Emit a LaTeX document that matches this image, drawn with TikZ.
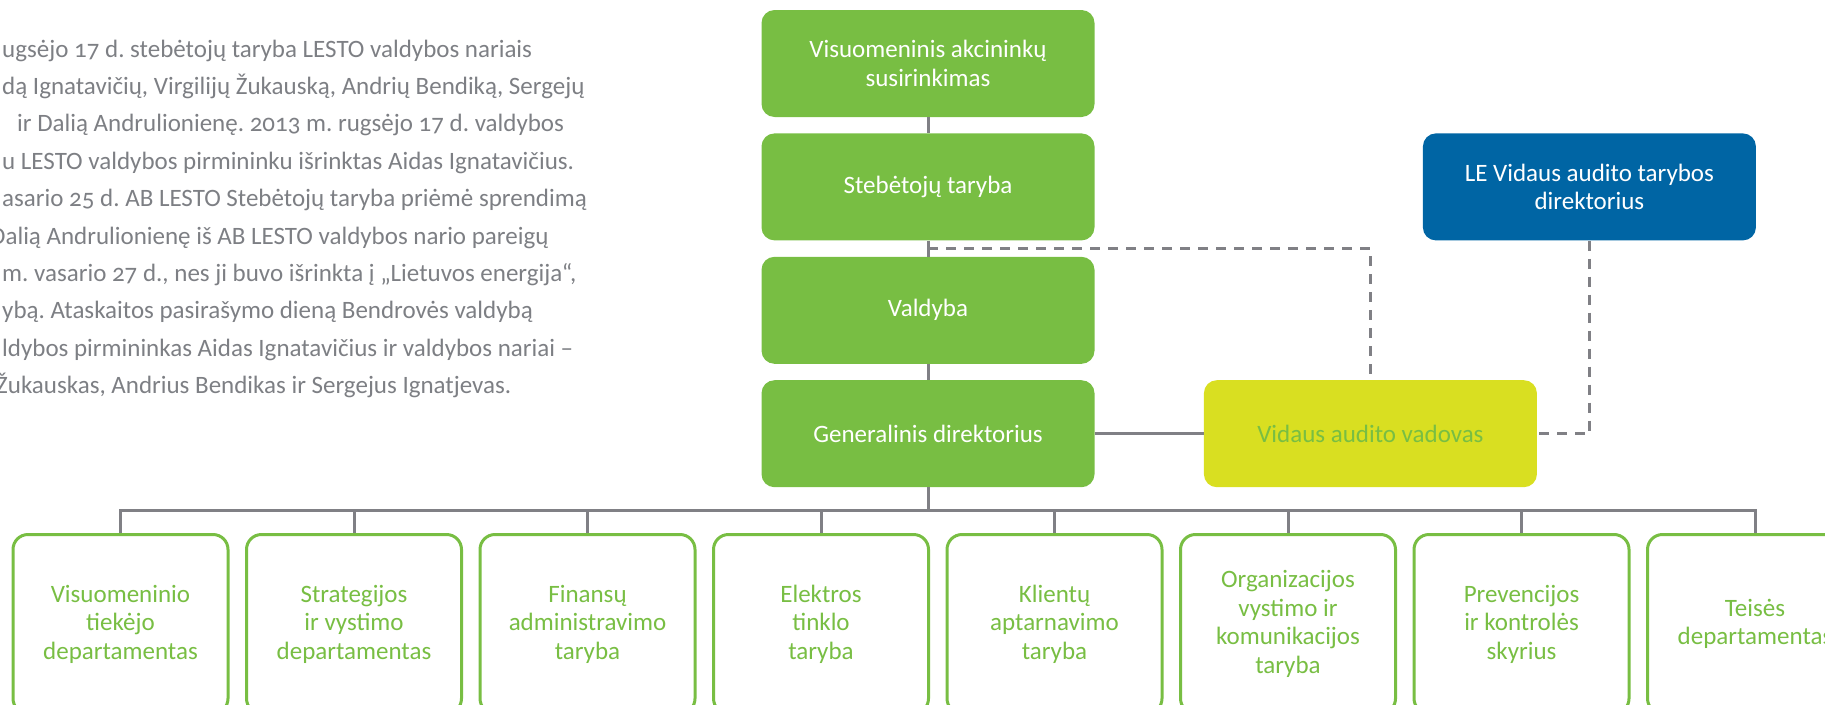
\documentclass[tikz,border=0pt]{standalone}
\usepackage{fontspec}
\setmainfont{Carlito}[Numbers=OldStyle]
\usetikzlibrary{positioning,calc}
\definecolor{leafgreen}{RGB}{120,190,67}
\definecolor{limeyellow}{RGB}{217,223,33}
\definecolor{deepblue}{RGB}{0,101,164}
\definecolor{linegray}{RGB}{128,128,133}
\definecolor{textgray}{RGB}{125,127,132}
\tikzstyle{board} = [rectangle, rounded corners=13pt, minimum width=333pt, minimum height=107pt, fill=leafgreen, text=white, align=center]
\tikzstyle{audit} = [board, fill=limeyellow, text=leafgreen]
\tikzstyle{group} = [board, fill=deepblue]
\tikzstyle{dept} = [rectangle, rounded corners=15pt, minimum width=215pt, minimum height=179pt, line width=3pt, draw=leafgreen, fill=white, text=leafgreen, align=center, anchor=north]
\tikzstyle{link} = [line width=3pt, draw=linegray]
\tikzstyle{dashlink} = [link, dash pattern=on 10pt off 8pt]
\tikzstyle{note} = [anchor=base west, inner sep=0pt, text=textgray]

\begin{document}
\frenchspacing
\begin{tikzpicture}[x=1pt, y=-1pt, font=\fontsize{25}{28.5}\selectfont] % pixel units, y down
\useasboundingbox (0,0) rectangle (1825,704);

% Text beside the chart
\node (note1)  [note] at (2,57)     {ugsėjo 17 d. stebėtojų taryba LESTO valdybos nariais};
\node (note2)  [note] at (2,94.4)   {dą Ignatavičių, Virgilijų Žukauską, Andrių Bendiką, Sergejų};
\node (note3)  [note] at (17,131.8) {ir Dalią Andrulionienę. 2013 m. rugsėjo 17 d. valdybos};
\node (note4)  [note] at (2,169.2)  {u LESTO valdybos pirmininku išrinktas Aidas Ignatavičius.};
\node (note5)  [note] at (2,206.6)  {asario 25 d. AB LESTO Stebėtojų taryba priėmė sprendimą};
\node (note6)  [note] at (-10,244)  {Dalią Andrulionienę iš AB LESTO valdybos nario pareigų};
\node (note7)  [note] at (2,281.4)  {m. vasario 27 d., nes ji buvo išrinkta į „Lietuvos energija“,};
\node (note8)  [note] at (2,318.8)  {ybą. Ataskaitos pasirašymo dieną Bendrovės valdybą};
\node (note9)  [note] at (2,356.2)  {ldybos pirmininkas Aidas Ignatavičius ir valdybos nariai –};
\node (note10) [note] at (-4,393.6) {Žukauskas, Andrius Bendikas ir Sergejus Ignatjevas.};

% Place the governing bodies
\node (meeting)     [board]                             at (928,63.5) {Visuomeninis akcininkų\\susirinkimas};
\node (supervisory) [board, below=16pt of meeting]                    {Stebėtojų taryba};
\node (management)  [board, below=16pt of supervisory]                {Valdyba};
\node (ceo)         [board, below=16pt of management]                 {Generalinis direktorius};
\node (audithead)   [audit, right=109pt of ceo]                       {Vidaus audito vadovas};
\node (auditboard)  [group, right=328pt of supervisory]               {LE Vidaus audito tarybos\\direktorius};
\coordinate (tap) at ($(supervisory.south)!0.5!(management.north)$);
\coordinate [below=23pt of ceo] (bus);

% Place the departments
\node (dep1) [dept] at (120.5,533)      {Visuomeninio\\tiekėjo\\departamentas};
\node (dep2) [dept, right=15.5pt of dep1] {Strategijos\\ir vystimo\\departamentas};
\node (dep3) [dept, right=15.5pt of dep2] {Finansų\\administravimo\\taryba};
\node (dep4) [dept, right=15.5pt of dep3] {Elektros\\tinklo\\taryba};
\node (dep5) [dept, right=15.5pt of dep4] {Klientų\\aptarnavimo\\taryba};
\node (dep6) [dept, right=15.5pt of dep5] {Organizacijos\\vystimo ir\\komunikacijos\\taryba};
\node (dep7) [dept, right=15.5pt of dep6] {Prevencijos\\ir kontrolės\\skyrius};
\node (dep8) [dept, right=15.5pt of dep7] {Teisės\\departamentas};

% Connect the nodes
\draw [link]     (meeting)     -- (supervisory);
\draw [link]     (supervisory) -- (management);
\draw [link]     (management)  -- (ceo);
\draw [link]     (ceo)         -- (bus);
\draw [link]     (ceo)         -- (audithead);
\draw [dashlink] (tap)         -| (audithead);
\draw [dashlink] (auditboard)  |- (audithead);
\draw [link]     (dep1.north)  |- (bus) -| (dep8.north);
\draw [link]     (dep2)        -- (dep2.north |- bus);
\draw [link]     (dep3)        -- (dep3.north |- bus);
\draw [link]     (dep4)        -- (dep4.north |- bus);
\draw [link]     (dep5)        -- (dep5.north |- bus);
\draw [link]     (dep6)        -- (dep6.north |- bus);
\draw [link]     (dep7)        -- (dep7.north |- bus);

\end{tikzpicture}
\end{document}
